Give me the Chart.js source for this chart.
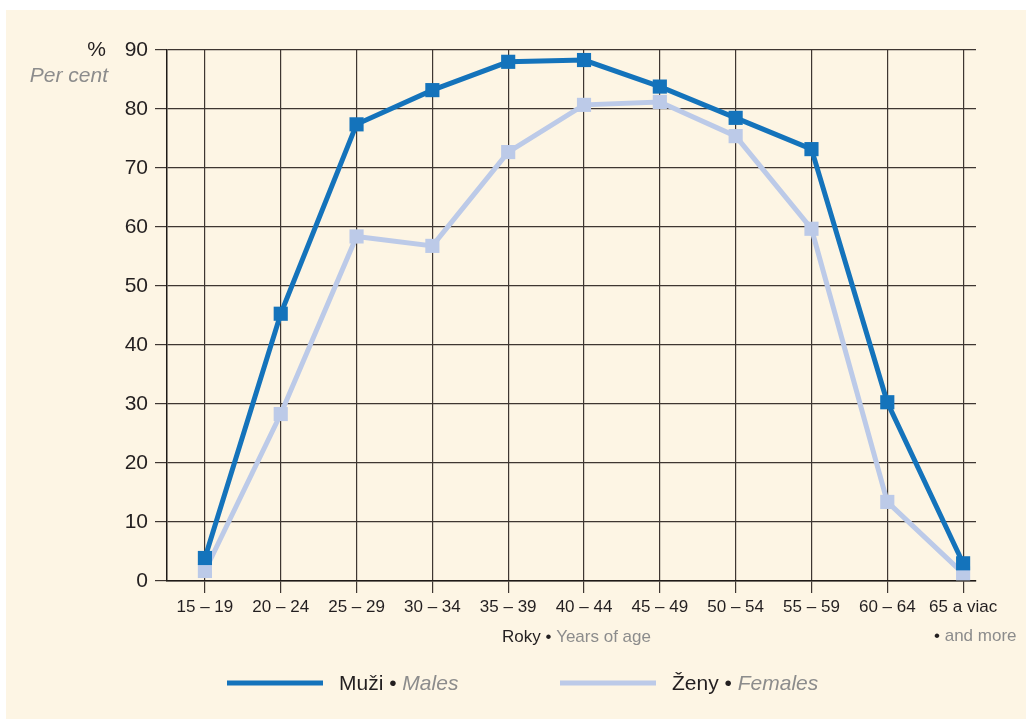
<!DOCTYPE html>
<html>
<head>
<meta charset="utf-8">
<script src="https://cdn.jsdelivr.net/npm/chart.js@4/dist/chart.umd.min.js"></script>
<style>
  html, body { margin: 0; padding: 0; background: #ffffff; }
  #wrap { position: absolute; left: 6px; top: 10px; width: 1020px; height: 709px; background: #fdf5e4; }
  #chart { display: block; }
</style>
</head>
<body>
<div id="wrap"><canvas id="chart" width="1020" height="709"></canvas></div>
<script>
// Data
const ageGroups = ['15 – 19', '20 – 24', '25 – 29', '30 – 34', '35 – 39', '40 – 44',
                   '45 – 49', '50 – 54', '55 – 59', '60 – 64', '65 a viac'];
const males = [3.9, 45.3, 77.4, 83.2, 88.0, 88.3, 83.8, 78.5, 73.2, 30.3, 3.0];
const females = [1.7, 28.3, 58.4, 56.8, 72.7, 80.7, 81.2, 75.4, 59.7, 13.4, 1.3];
const yTicks = [0, 10, 20, 30, 40, 50, 60, 70, 80, 90];

const FONT = '"Liberation Sans", Arial, Helvetica, sans-serif';
const DARK = '#231f20';
const GREY = '#8c8c8c';
const BLUE = '#1473bb';
const LIGHT = '#bccae8';
const GRID = '#3e3631';

// mixed colour text pieces, drawn one after another
function drawPieces(ctx, x, y, pieces) {
    pieces.forEach(p => {
        ctx.font = p.font;
        ctx.fillStyle = p.color;
        ctx.fillText(p.text, x, y);
        x += ctx.measureText(p.text).width;
    });
}

const extraText = {
    id: 'extraText',
    afterDraw(chart) {
        const ctx = chart.ctx;
        ctx.save();
        ctx.textBaseline = 'middle';

        // y axis unit
        ctx.textAlign = 'right';
        ctx.font = '21px ' + FONT;
        ctx.fillStyle = DARK;
        ctx.fillText('%', 100, 40);
        ctx.font = 'italic 21px ' + FONT;
        ctx.fillStyle = GREY;
        ctx.fillText('Per cent', 102, 66);

        ctx.textAlign = 'left';
        // x axis title
        drawPieces(ctx, 496, 627, [
            { text: 'Roky • ', font: '17px ' + FONT, color: DARK },
            { text: 'Years of age', font: '17px ' + FONT, color: GREY }
        ]);
        // second line of last category
        drawPieces(ctx, 928, 626, [
            { text: '• ', font: '17px ' + FONT, color: DARK },
            { text: 'and more', font: '17px ' + FONT, color: GREY }
        ]);

        // legend
        const legend = [
            { x: 221, color: BLUE, a: 'Muži • ', b: 'Males' },
            { x: 554, color: LIGHT, a: 'Ženy • ', b: 'Females' }
        ];
        legend.forEach(l => {
            ctx.strokeStyle = l.color;
            ctx.lineWidth = 5;
            ctx.beginPath();
            ctx.moveTo(l.x, 673);
            ctx.lineTo(l.x + 96, 673);
            ctx.stroke();
            drawPieces(ctx, l.x + 112, 674, [
                { text: l.a, font: '21px ' + FONT, color: DARK },
                { text: l.b, font: 'italic 21px ' + FONT, color: GREY }
            ]);
        });
        ctx.restore();
    }
};

const toPoints = arr => arr.map((v, i) => ({ x: i, y: v }));

new Chart(document.getElementById('chart'), {
    type: 'line',
    data: {
        datasets: [
            {
                label: 'Muži • Males',
                data: toPoints(males),
                borderColor: BLUE,
                backgroundColor: BLUE,
                borderWidth: 5,
                pointStyle: 'rect',
                pointRadius: 10,
                pointBorderWidth: 0,
                tension: 0
            },
            {
                label: 'Ženy • Females',
                data: toPoints(females),
                borderColor: LIGHT,
                backgroundColor: LIGHT,
                borderWidth: 5,
                pointStyle: 'rect',
                pointRadius: 10,
                pointBorderWidth: 0,
                tension: 0
            }
        ]
    },
    options: {
        responsive: false,
        animation: false,
        layout: { padding: { left: 0, top: 40, right: 50, bottom: 0 } },
        plugins: {
            legend: { display: false },
            tooltip: { enabled: false }
        },
        scales: {
            x: {
                type: 'linear',
                min: -0.5,
                max: 10.17,
                afterBuildTicks: s => { s.ticks = ageGroups.map((c, i) => ({ value: i })); },
                afterFit: s => { s.height = 138; },
                ticks: {
                    callback: v => ageGroups[v],
                    font: { family: FONT, size: 17 },
                    color: DARK,
                    padding: 4,
                    maxRotation: 0,
                    autoSkip: false
                },
                grid: { color: GRID, lineWidth: 1.2, tickLength: 12 },
                border: { color: '#1f1a17', width: 1.5 }
            },
            y: {
                min: 0,
                max: 90,
                afterBuildTicks: s => { s.ticks = yTicks.map(v => ({ value: v })); },
                afterFit: s => { s.width = 161; },
                ticks: {
                    font: { family: FONT, size: 21 },
                    color: DARK,
                    padding: 7
                },
                grid: { color: GRID, lineWidth: 1.2, tickLength: 12 },
                border: { color: '#1f1a17', width: 1.5 }
            }
        }
    },
    plugins: [extraText]
});
</script>
</body>
</html>
